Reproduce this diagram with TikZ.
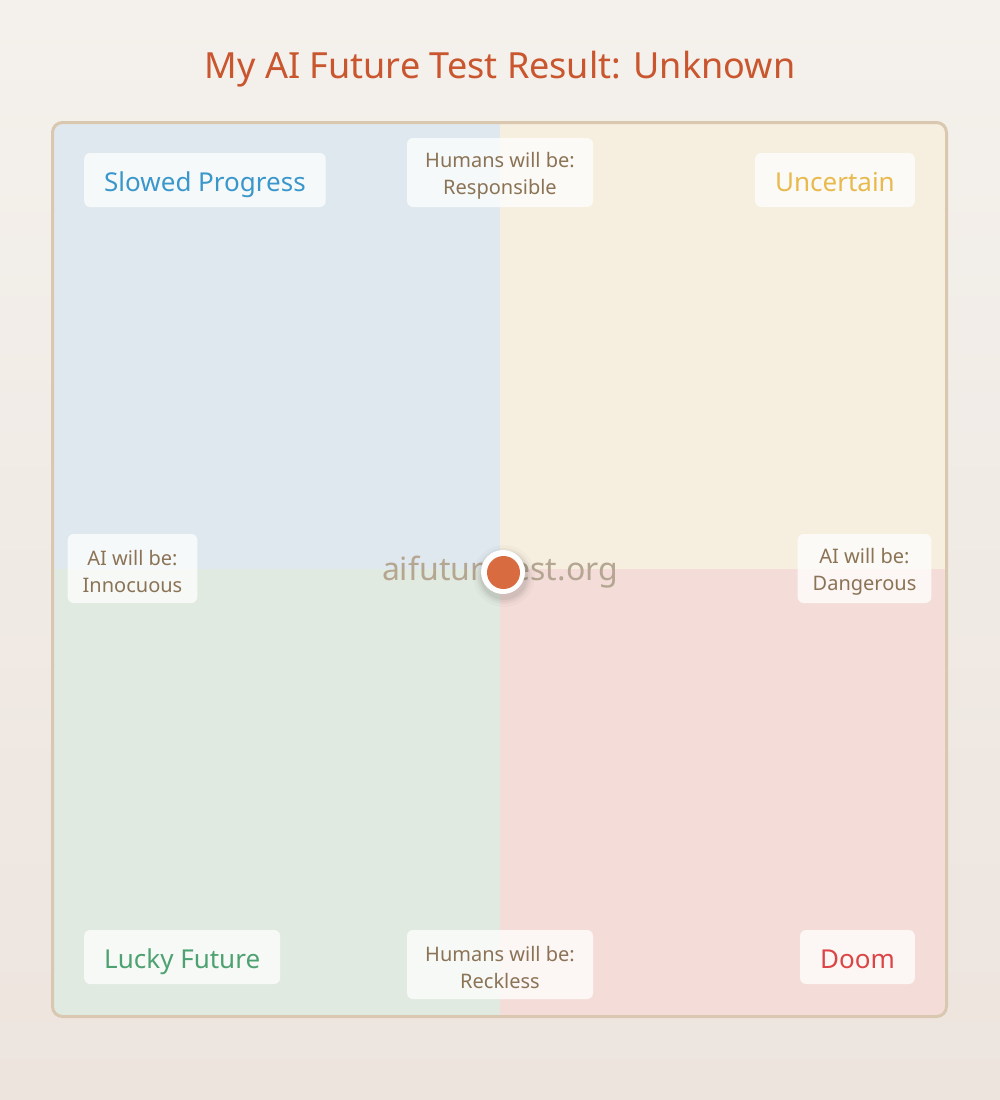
\documentclass[tikz,border=0pt]{standalone}
\usepackage{fontspec}
\setmainfont{Noto Sans}
\definecolor{bgtop}{HTML}{F4F1EC}
\definecolor{bgbot}{HTML}{EDE4DE}
\definecolor{frame}{HTML}{D9C7B0}
\definecolor{quadtl}{HTML}{DFE8EE}
\definecolor{quadtr}{HTML}{F6EEDF}
\definecolor{quadbl}{HTML}{E1EAE1}
\definecolor{quadbr}{HTML}{F4DDD9}
\definecolor{axistext}{HTML}{8B7355}
\definecolor{titlecol}{HTML}{C9562E}
\definecolor{slowcol}{HTML}{3A97CB}
\definecolor{uncertcol}{HTML}{E8BA4E}
\definecolor{luckycol}{HTML}{4EA272}
\definecolor{doomcol}{HTML}{DC4545}
\definecolor{sitecol}{HTML}{B5A692}
\definecolor{dotcol}{HTML}{D96B41}
\newcommand{\lift}{\rule{0pt}{21pt}}
\begin{document}
\begin{tikzpicture}[x=1pt,y=-1pt,
    tag/.style={rounded corners=6pt,fill=white,fill opacity=0.75,text opacity=1,
      minimum height=54pt,inner xsep=20pt,text height=22pt,text depth=0pt,
      font=\fontsize{26}{30}\selectfont},
    axislabel/.style={rounded corners=6pt,fill=white,fill opacity=0.75,text opacity=1,
      text=axistext,align=center,minimum height=69pt,inner xsep=15pt,
      font=\fontsize{20}{27}\selectfont}]

    \shade[top color=bgtop,bottom color=bgbot] (0,0) rectangle (1000,1100);
    \useasboundingbox (0,0) rectangle (1000,1100);

    \node[text=titlecol,font=\fontsize{36}{42}\selectfont,anchor=base] (title) at (500,78) {My AI Future Test Result: Unknown};

    \begin{scope}
        \clip[rounded corners=10pt] (52.5,122.5) rectangle (946.5,1016.5);
        \fill[quadtl] (50,120) rectangle (500,569);
        \fill[quadtr] (500,120) rectangle (950,569);
        \fill[quadbl] (50,569) rectangle (500,1020);
        \fill[quadbr] (500,569) rectangle (950,1020);
    \end{scope}
    \draw[frame,line width=3pt,rounded corners=10pt] (52.5,122.5) rectangle (946.5,1016.5);

    \node[text=sitecol,font=\fontsize{32}{36}\selectfont,anchor=base] (site) at (500,580) {aifuturetest.org};

    \node[tag,text=slowcol,anchor=west] (slowed) at (84,180) {Slowed Progress};
    \node[tag,text=uncertcol,anchor=east] (uncertain) at (915,180) {Uncertain};
    \node[tag,text=luckycol,anchor=west] (lucky) at (84,957) {Lucky Future};
    \node[tag,text=doomcol,anchor=east] (doom) at (915,957) {Doom};

    \node[axislabel,minimum width=186pt] (responsible) at (500,172.5) {\lift Humans will be:\\Responsible};
    \node[axislabel,minimum width=186pt] (reckless) at (500,964.5) {\lift Humans will be:\\Reckless};
    \node[axislabel] (innocuous) at (132.5,568.5) {\lift AI will be:\\Innocuous};
    \node[axislabel] (dangerous) at (864.5,568.5) {\lift AI will be:\\Dangerous};

    % result marker
    \foreach \r/\o in {31/0.02,28/0.03,26/0.04,24/0.05}
        \fill[black,opacity=\o] (504,576) circle (\r);
    \fill[white!97!bgtop] (503,572) circle (22);
    \fill[dotcol] (503.5,572.5) circle (16.5);
\end{tikzpicture}
\end{document}
